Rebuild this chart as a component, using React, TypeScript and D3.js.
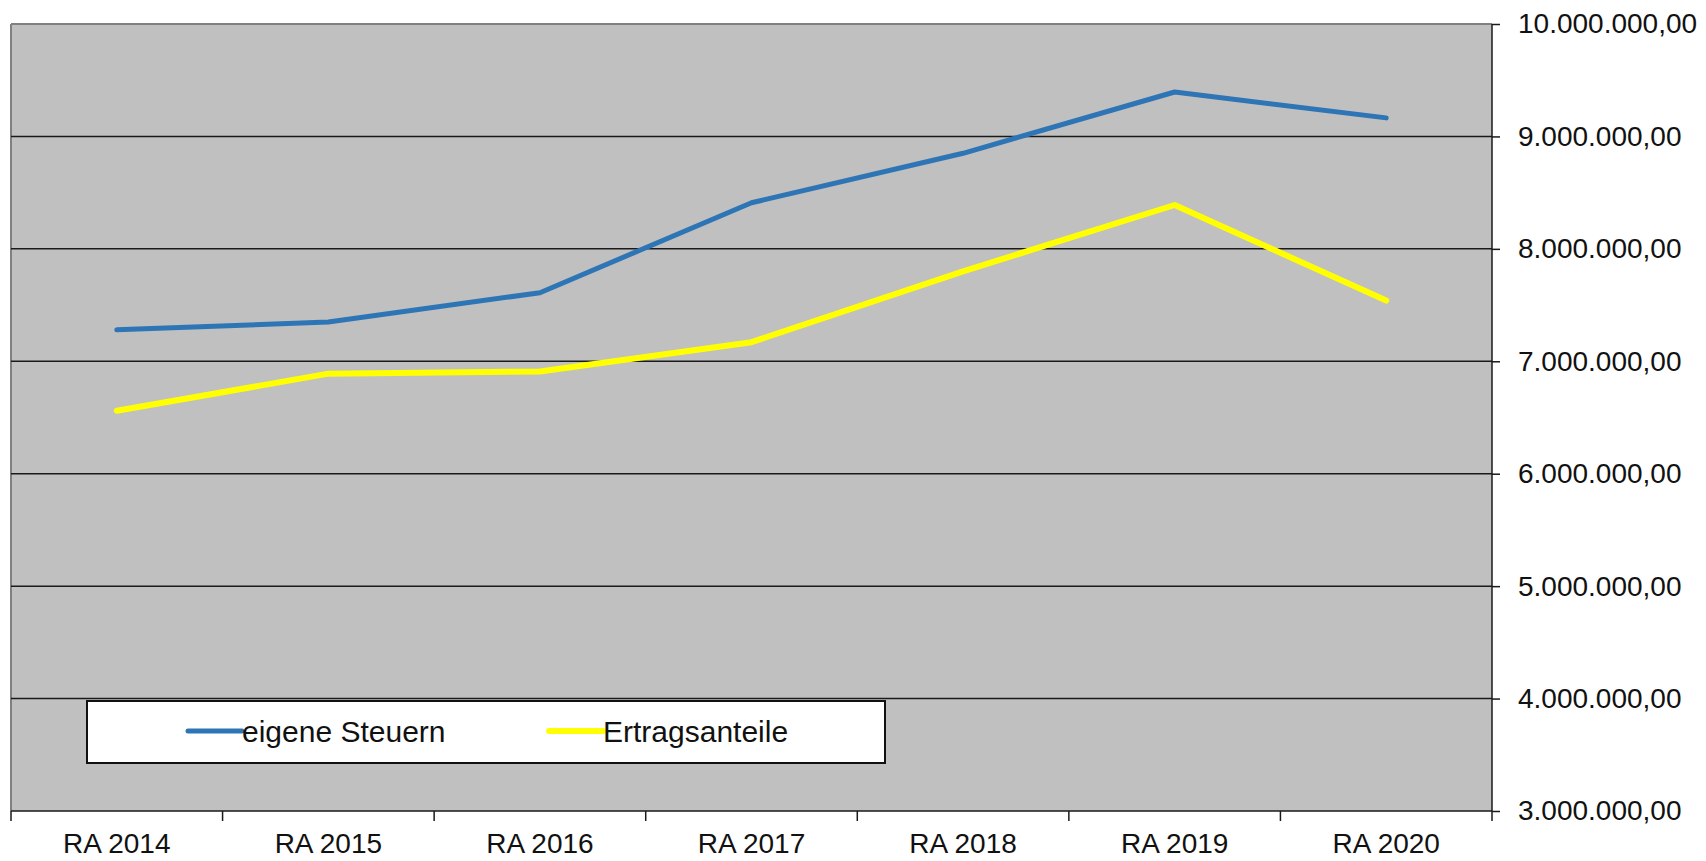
import React from "react";
import * as d3 from "d3";

const categories = ["RA 2014", "RA 2015", "RA 2016", "RA 2017", "RA 2018", "RA 2019", "RA 2020"];
const eigeneSteuern = [7280000, 7350000, 7610000, 8410000, 8850000, 9395000, 9165000];
const ertragsanteile = [6560000, 6890000, 6910000, 7170000, 7800000, 8390000, 7540000];
const yTicks = [3000000, 4000000, 5000000, 6000000, 7000000, 8000000, 9000000, 10000000];

const W = 1706;
const H = 861;
const FONT = '"Liberation Sans", Arial, sans-serif';

const fmt = (v: number) => {
    // german format 10.000.000,00
    const s = Math.round(v).toString().replace(/\B(?=(\d{3})+(?!\d))/g, ".");
    return s + ",00";
};

const App = () => {
    const ref = React.useRef<SVGSVGElement>(null);

    React.useEffect(() => {
        document.body.style.margin = "0";
        const svg = d3.select(ref.current);
        svg.selectAll("*").remove();

        const left = 11, right = 1492, top = 24, bottom = 811;

        const x = d3.scaleBand().domain(categories).range([left, right]).padding(0);
        const y = d3.scaleLinear().domain([3000000, 10000000]).range([bottom, top]);
        const cx = (c: string) => (x(c) as number) + x.bandwidth() / 2;

        svg.append("rect").attr("width", W).attr("height", H).attr("fill", "white");

        //plot area
        svg.append("rect")
            .attr("x", left).attr("y", top)
            .attr("width", right - left).attr("height", bottom - top)
            .attr("fill", "#c0c0c0");

        //border top + left
        svg.append("line").attr("x1", left).attr("x2", right).attr("y1", top).attr("y2", top)
            .attr("stroke", "#808080").attr("stroke-width", 2);
        svg.append("line").attr("x1", left).attr("x2", left).attr("y1", top).attr("y2", bottom)
            .attr("stroke", "#808080").attr("stroke-width", 2);

        //gridlines
        svg.append("g").selectAll("line")
            .data(yTicks.slice(1, -1))
            .join("line")
            .attr("x1", left).attr("x2", right)
            .attr("y1", d => y(d)).attr("y2", d => y(d))
            .attr("stroke", "#1a1a1a").attr("stroke-width", 1.5);

        //right axis
        const yAxis = d3.axisRight(y).tickValues(yTicks).tickSize(8).tickPadding(18)
            .tickFormat(d => fmt(d as number));
        const ya = svg.append("g").attr("transform", `translate(${right},0)`).call(yAxis);
        ya.select(".domain").attr("stroke", "#1a1a1a").attr("stroke-width", 1.5)
            .attr("d", `M0,${top}V${bottom + 10}`);
        ya.selectAll(".tick line").attr("stroke", "#1a1a1a").attr("stroke-width", 1.5);
        ya.selectAll(".tick text")
            .attr("font-family", FONT).attr("font-size", "28px").attr("fill", "#111");

        //bottom axis
        svg.append("line").attr("x1", left).attr("x2", right).attr("y1", bottom).attr("y2", bottom)
            .attr("stroke", "#1a1a1a").attr("stroke-width", 1.5);
        svg.append("g").selectAll("line")
            .data(categories)
            .join("line")
            .attr("x1", d => x(d) as number).attr("x2", d => x(d) as number)
            .attr("y1", bottom).attr("y2", bottom + 10)
            .attr("stroke", "#1a1a1a").attr("stroke-width", 1.5);
        svg.append("g").selectAll("text")
            .data(categories)
            .join("text")
            .attr("x", d => cx(d)).attr("y", 853)
            .attr("text-anchor", "middle")
            .attr("font-family", FONT).attr("font-size", "28px").attr("fill", "#111")
            .text(d => d);

        //lines
        const series = [
            { name: "eigene Steuern", values: eigeneSteuern, color: "#2e75b6", width: 5 },
            { name: "Ertragsanteile", values: ertragsanteile, color: "#ffff00", width: 6 },
        ];
        const line = d3.line<number>()
            .x((_, i) => cx(categories[i]))
            .y(d => y(d));
        series.forEach(s => {
            svg.append("path")
                .attr("d", line(s.values))
                .attr("fill", "none")
                .attr("stroke", s.color)
                .attr("stroke-width", s.width)
                .attr("stroke-linejoin", "round")
                .attr("stroke-linecap", "round");
        });

        //legend
        const lg = svg.append("g");
        lg.append("rect")
            .attr("x", 87).attr("y", 701).attr("width", 798).attr("height", 62)
            .attr("fill", "white").attr("stroke", "#111").attr("stroke-width", 2);
        const lx = [188, 549];
        series.forEach((s, i) => {
            lg.append("line")
                .attr("x1", lx[i]).attr("x2", lx[i] + 54)
                .attr("y1", 731).attr("y2", 731)
                .attr("stroke", s.color).attr("stroke-width", s.width)
                .attr("stroke-linecap", "round");
            lg.append("text")
                .attr("x", lx[i] + 54).attr("y", 742)
                .attr("font-family", FONT).attr("font-size", "30px").attr("fill", "#111")
                .text(s.name);
        });
    }, []);

    return <svg ref={ref} width={W} height={H} style={{ display: "block" }}></svg>;
};

export default App;
